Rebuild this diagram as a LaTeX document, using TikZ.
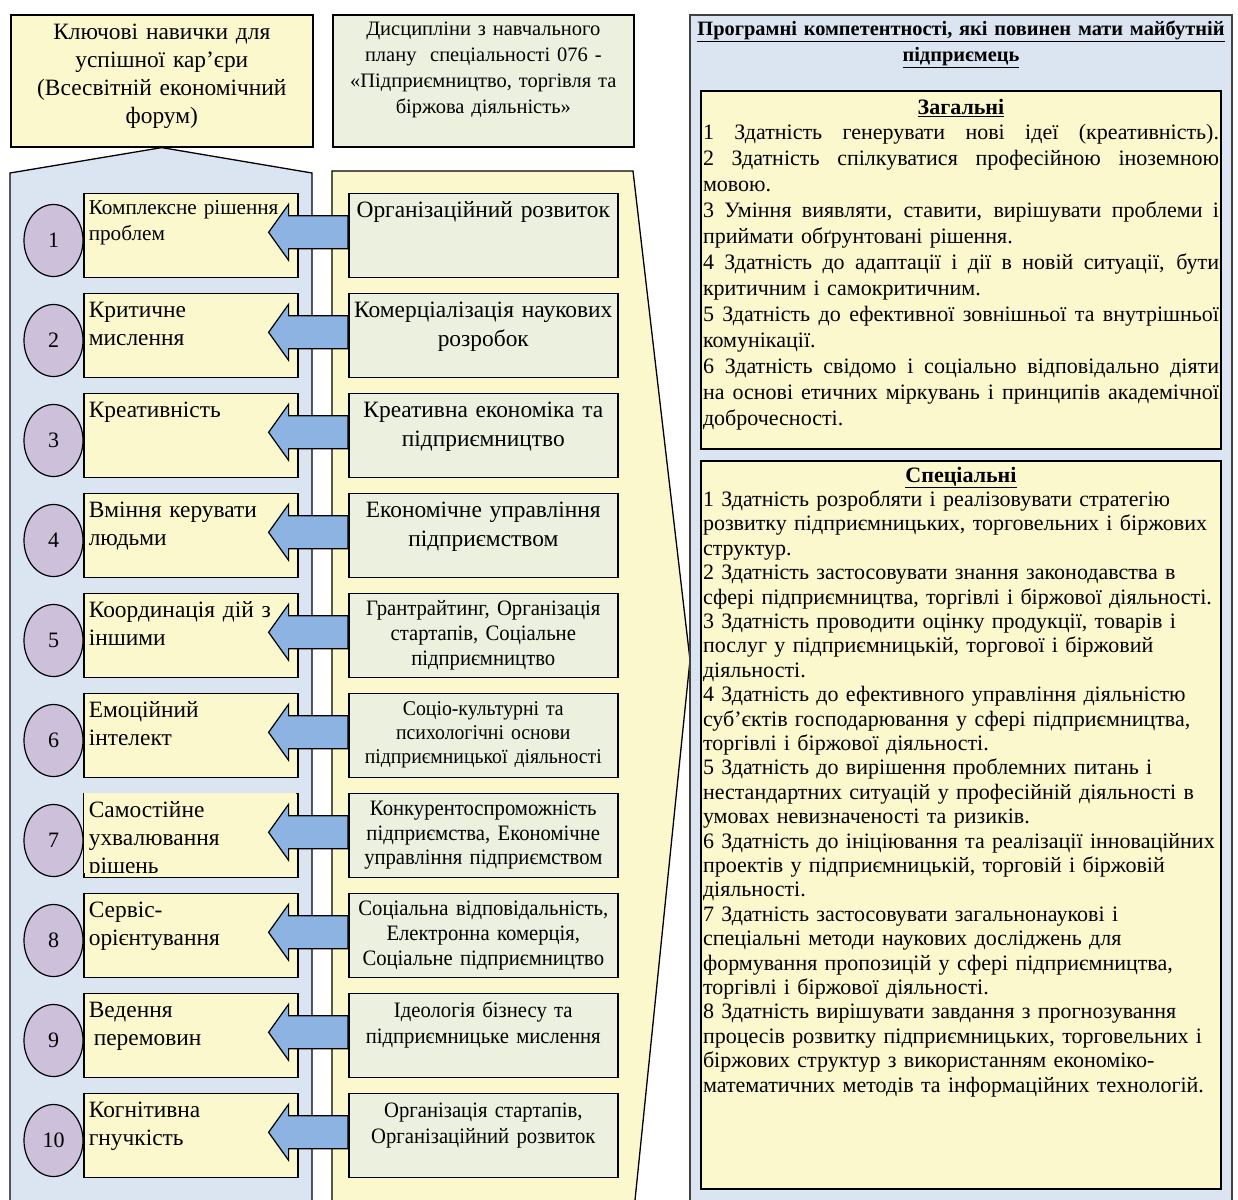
\documentclass[tikz,border=0pt]{standalone}
\usepackage{fontspec}
\setmainfont{Liberation Serif}
\newfontfamily\narrowfont[FakeStretch=0.94]{Liberation Serif}
\usetikzlibrary{calc,shapes.geometric}

\definecolor{panelblue}{HTML}{DBE5F1}
\definecolor{paleyellow}{HTML}{FBF8CE}
\definecolor{palegreen}{HTML}{EBF1DE}
\definecolor{arrowblue}{HTML}{8DB3E2}
\definecolor{lilac}{HTML}{CCC0DA}

\newcommand{\fullline}[1]{\leavevmode\hbox to 516pt{\spaceskip=0pt\xspaceskip=0pt #1}}

\tikzset{
  skillbox/.style={draw=black, line width=1.6pt, fill=paleyellow, anchor=north west,
    minimum width=214, minimum height=84, text width=204pt, inner xsep=5pt, inner ysep=0pt,
    align=left, text height=24pt, text depth=60pt, font=\fontsize{23.4}{28}\selectfont},
  coursebox/.style={draw=black, line width=1.6pt, fill=palegreen, anchor=north west,
    minimum width=269, minimum height=84, text width=262pt, inner xsep=3.5pt, inner ysep=0pt,
    align=center, text height=24.5pt, text depth=59.5pt, font=\fontsize{23.4}{28.5}\selectfont},
  smallcourse/.style={coursebox, text height=22.5pt, text depth=61.5pt,
    font=\narrowfont\fontsize{22}{25}\selectfont},
  numcirc/.style={ellipse, draw=black, line width=1.2pt, fill=lilac, minimum width=59,
    minimum height=72, inner sep=0pt, font=\fontsize{22}{24}\selectfont},
  bluearrow/.style={draw=black, line width=1.2pt, fill=arrowblue,
    to path={let \p1=(\tikztostart.west), \p2=(\tikztotarget.east) in
      (\x1,\y1+19.5pt) -- (\x2-10pt,\y1+19.5pt) -- (\x2-10pt,\y1+31pt) -- (\x2-30pt,\y1+3pt)
      -- (\x2-10pt,\y1-25pt) -- (\x2-10pt,\y1-13.5pt) -- (\x1,\y1-13.5pt) -- cycle}},
  bigbox/.style={draw=black, line width=2pt, fill=paleyellow, anchor=north west,
    text width=516pt, inner xsep=2pt, inner ysep=0pt, align=left,
    font=\fontsize{22}{26}\selectfont},
}

\begin{document}
\begin{tikzpicture}[x=1pt, y=-1pt]
\useasboundingbox (0,0) rectangle (1238,1199);
\clip (0,0) rectangle (1238,1199);

% Headers
\node[draw=black, line width=1.6pt, fill=paleyellow, anchor=north west, minimum width=302,
  minimum height=132, text width=296pt, inner sep=0pt, align=center, text height=25pt,
  text depth=107pt, font=\fontsize{23.4}{28}\selectfont] (wef) at (10,14)
  {Ключові навички для\\успішної кар’єри\\(Всесвітній економічний\\форум)};
\node[draw=black, line width=1.6pt, fill=palegreen, anchor=north west, minimum width=301,
  minimum height=132, text width=295pt, inner sep=0pt, align=center, text height=21pt,
  text depth=111pt, font=\fontsize{20.5}{26}\selectfont] (plan) at (332,14)
  {Дисципліни з навчального\\плану\ \ спеціальності 076 -\\«Підприємництво, торгівля та\\біржова діяльність»};

% Panels
\filldraw[fill=panelblue, draw=black, line width=1.3pt]
  (10,1210) -- (10,173) -- (wef.south) -- (312,173) -- (312,1210) -- cycle;
\filldraw[fill=paleyellow, draw=black, line width=1.3pt]
  (332,1210) -- (332,171) -- (633,171) -- (690,660) -- (634,1210) -- cycle;
\filldraw[fill=panelblue, draw=black!75, line width=2pt] (690,15) rectangle (1232,1215);

% Competences
\node[anchor=north, text width=536pt, inner sep=0pt, align=center, text height=20pt,
  font=\bfseries\fontsize{20.4}{26}\selectfont] (title) at (961,15)
  {\underline{Програмні компетентності, які повинен мати майбутній}\\\underline{підприємець}};
\node[bigbox, minimum width=520, minimum height=358, text height=23.5pt, text depth=334.5pt] (general) at (700,90)
  {\makebox[516pt]{\textbf{\underline{Загальні}}}\\[-1pt]
   \fullline{1 Здатність генерувати нові ідеї (креативність).}\\
   \fullline{2 Здатність спілкуватися професійною іноземною}\\
   мовою.\\
   \fullline{3 Уміння виявляти, ставити, вирішувати проблеми і}\\
   приймати обґрунтовані рішення.\\
   \fullline{4 Здатність до адаптації і дії в новій ситуації, бути}\\
   критичним і самокритичним.\\
   \fullline{5 Здатність до ефективної зовнішньої та внутрішньої}\\
   комунікації.\\
   \fullline{6 Здатність свідомо і соціально відповідально діяти}\\
   \fullline{на основі етичних міркувань і принципів академічної}\\
   доброчесності.};
\node[bigbox, minimum width=520, minimum height=728, text height=21pt, text depth=707pt,
  font=\fontsize{22}{24.4}\selectfont] (special) at (700,460)
  {\makebox[516pt]{\textbf{\underline{Спеціальні}}}\\
   1 Здатність розробляти і реалізовувати стратегію\\
   розвитку підприємницьких, торговельних і біржових\\
   структур.\\
   2 Здатність застосовувати знання законодавства в\\
   сфері підприємництва, торгівлі і біржової діяльності.\\
   3 Здатність проводити оцінку продукції, товарів і\\
   послуг у підприємницькій, торгової і біржовий\\
   діяльності.\\
   4 Здатність до ефективного управління діяльністю\\
   суб'єктів господарювання у сфері підприємництва,\\
   торгівлі і біржової діяльності.\\
   5 Здатність до вирішення проблемних питань і\\
   нестандартних ситуацій у професійній діяльності в\\
   умовах невизначеності та ризиків.\\
   6 Здатність до ініціювання та реалізації інноваційних\\
   проектів у підприємницькій, торговій і біржовій\\
   діяльності.\\
   7 Здатність застосовувати загальнонаукові і\\
   спеціальні методи наукових досліджень для\\
   формування пропозицій у сфері підприємництва,\\
   торгівлі і біржової діяльності.\\
   8 Здатність вирішувати завдання з прогнозування\\
   процесів розвитку підприємницьких, торговельних і\\
   біржових структур з використанням економіко-\\
   математичних методів та інформаційних технологій.};

% Row 1
\node[skillbox, text height=21pt, text depth=63pt, font=\fontsize{21.2}{26}\selectfont] (s1) at (83,192.5) {Комплексне рішення\\проблем};
\node[coursebox] (g1) at (348,192.5) {Організаційний розвиток};
% Row 2
\node[skillbox] (s2) at (83,292.5) {Критичне\\мислення};
\node[coursebox] (g2) at (348,292.5) {Комерціалізація наукових\\розробок};
% Row 3
\node[skillbox] (s3) at (83,392.5) {Креативність};
\node[coursebox] (g3) at (348,392.5) {Креативна економіка та\\підприємництво};
% Row 4
\node[skillbox] (s4) at (83,492.5) {Вміння керувати\\людьми};
\node[coursebox] (g4) at (348,492.5) {Економічне управління\\підприємством};
% Row 5
\node[skillbox] (s5) at (83,592.5) {Координація дій з\\іншими};
\node[smallcourse] (g5) at (348,592.5) {Грантрайтинг, Організація\\стартапів, Соціальне\\підприємництво};
% Row 6
\node[skillbox] (s6) at (83,692.5) {Емоційний\\інтелект};
\node[smallcourse, font=\narrowfont\fontsize{21}{24}\selectfont] (g6) at (348,692.5) {Соціо-культурні та\\психологічні основи\\підприємницької діяльності};
% Row 7
\node[skillbox] (s7) at (83,792.5) {};
\begin{scope}
  \clip (84,793) rectangle (296,872);
  \node[skillbox, draw=none] (s7t) at (83,792.5) {Самостійне\\ухвалювання\\рішень};
\end{scope}
\node[smallcourse, font=\narrowfont\fontsize{22}{24.5}\selectfont] (g7) at (348,792.5) {Конкурентоспроможність\\підприємства, Економічне\\управління підприємством};
% Row 8
\node[skillbox] (s8) at (83,892.5) {Сервіс-\\орієнтування};
\node[smallcourse] (g8) at (348,892.5) {Соціальна відповідальність,\\Електронна комерція,\\Соціальне підприємництво};
% Row 9
\node[skillbox] (s9) at (83,992.5) {Ведення\\\hspace*{5pt}перемовин};
\node[smallcourse, font=\narrowfont\fontsize{22}{26}\selectfont, text height=24pt, text depth=60pt] (g9) at (348,992.5) {Ідеологія бізнесу та\\підприємницьке мислення};
% Row 10
\node[skillbox] (s10) at (83,1092.5) {Когнітивна\\гнучкість};
\node[smallcourse, font=\narrowfont\fontsize{22}{26}\selectfont, text height=24pt, text depth=60pt] (g10) at (348,1092.5) {Організація стартапів,\\Організаційний розвиток};

% Arrows
\draw[bluearrow] (g1) to (s1);
\draw[bluearrow] (g2) to (s2);
\draw[bluearrow] (g3) to (s3);
\draw[bluearrow] (g4) to (s4);
\draw[bluearrow] (g5) to (s5);
\draw[bluearrow] (g6) to (s6);
\draw[bluearrow] (g7) to (s7);
\draw[bluearrow] (g8) to (s8);
\draw[bluearrow] (g9) to (s9);
\draw[bluearrow] (g10) to (s10);

% Numbers
\node[numcirc] (c1) at (53.5,240.5) {1};
\node[numcirc] (c2) at (53.5,340.5) {2};
\node[numcirc] (c3) at (53.5,440.5) {3};
\node[numcirc] (c4) at (53.5,540.5) {4};
\node[numcirc] (c5) at (53.5,640.5) {5};
\node[numcirc] (c6) at (53.5,740.5) {6};
\node[numcirc] (c7) at (53.5,840.5) {7};
\node[numcirc] (c8) at (53.5,940.5) {8};
\node[numcirc] (c9) at (53.5,1040.5) {9};
\node[numcirc] (c10) at (53.5,1140.5) {10};
\end{tikzpicture}
\end{document}
